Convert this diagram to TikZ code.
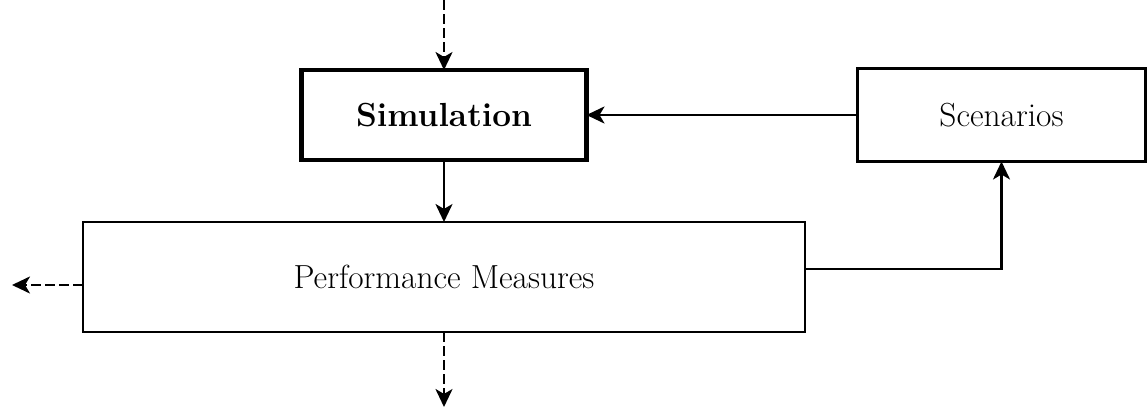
\documentclass[tikz,border=0pt]{standalone}
\usepackage{tikz}
\usetikzlibrary{calc,positioning,arrows.meta}
\tikzset{
	>={Stealth[length=3.6mm,width=3.4mm,inset=1mm]},
	block/.style={
		rectangle,
		draw=black, line width=1.4pt,
		outer sep=0pt,
		minimum height=1.86cm,
		text centered,
		font=\fontsize{19}{23}\selectfont},
	mainblock/.style={
		block,
		line width=2.6pt,
		font=\fontsize{19}{23}\selectfont\bfseries},
	line/.style={draw, line width=1.4pt, ->},
	dashline/.style={line, dash pattern=on 5.5pt off 2.5pt},
}

\begin{document}
\begin{tikzpicture}
[node distance=1.24cm and 5.42cm]
\useasboundingbox (0,0) rectangle (22.94,-8.2);
\node[mainblock, minimum width=5.7cm, minimum height=1.8cm] (sim) at (8.88,-2.3) {Simulation};
\node[block, minimum width=5.76cm, right=of sim] (scen) {Scenarios};
\node[block, minimum width=14.44cm, minimum height=2.2cm, below=of sim] (perf) {Performance Measures};

% free ends of the dashed arrows
\coordinate (in) at (sim.north |- 0,0);
\path ([yshift=-1.6mm]perf.west) ++(-1.42,0) coordinate (outleft);
\coordinate (outdown) at (perf.south |- 0,-8.14);

\draw[dashline] (in) -- (sim.north);
\draw[line] (sim.south) -- (perf.north);
\draw[line] (scen.west) -- (sim.east);
\draw[line] ([yshift=1.6mm]perf.east) -| (scen.south);
\draw[dashline] ([yshift=-1.6mm]perf.west) -- (outleft);
\draw[dashline] (perf.south) -- (outdown);
\end{tikzpicture}
\end{document}
